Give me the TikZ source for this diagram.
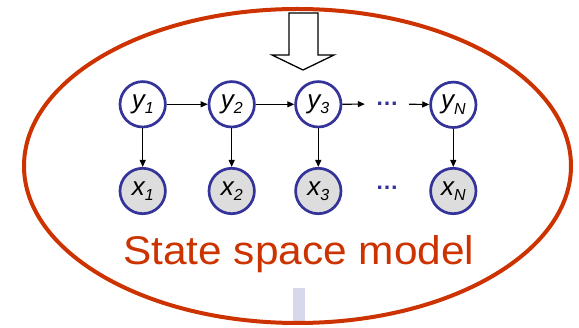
\documentclass[tikz,border=0pt]{standalone}
\usepackage{fontspec}
\setmainfont{Liberation Sans}
\usetikzlibrary{arrows.meta}
\definecolor{ered}{HTML}{CC3300}
\definecolor{navy}{HTML}{333399}
\definecolor{obsgray}{HTML}{DDDDDD}
\definecolor{barcol}{HTML}{D8D8EC}
\newcommand\lab[2]{#1\raisebox{-5.5pt}{\fontsize{16}{16}\selectfont #2}}
\begin{document}
\begin{tikzpicture}[x=1pt,y=-1pt,
  ynode/.style={circle,draw=navy,line width=2.7pt,minimum size=45.4pt,inner sep=0pt,fill=white,font=\fontsize{26}{26}\selectfont\itshape},
  xnode/.style={ynode,fill=obsgray},
  arr/.style={-{Triangle[length=7pt,width=6pt]},line width=1.2pt},
  dots/.style={text=navy,font=\fontsize{23}{23}\selectfont\bfseries,minimum width=44pt,inner sep=0pt}]
\useasboundingbox (0,0) rectangle (579,328);
\fill[barcol] (293.3,288) rectangle (305,323);
\draw[ered,line width=4pt] (297.5,166) ellipse [x radius=273.5, y radius=157];
\draw[line width=1.3pt,fill=white,line join=miter] (289,13) -- (318,13) -- (318,55) -- (334,55) -- (303,70) -- (272,55) -- (289,55) -- cycle;
\node[ynode] (y1) at (142.7,104.3) {\lab{y}{1}};
\node[ynode] (y2) at (231.7,104.3) {\lab{y}{2}};
\node[ynode] (y3) at (318.3,104.3) {\lab{y}{3}};
\node[ynode] (yN) at (453.3,104.8) {\lab{y}{N}};
\node[xnode] (x1) at (142.7,191) {\lab{x}{1}};
\node[xnode] (x2) at (231.7,191) {\lab{x}{2}};
\node[xnode] (x3) at (318.3,191) {\lab{x}{3}};
\node[xnode] (xN) at (453.3,191) {\lab{x}{N}};
\node[dots] (d1) at (387,104) {\ldots};
\node[dots] (d2) at (387,188) {\ldots};
\draw[arr] (y1) -- (y2);
\draw[arr] (y2) -- (y3);
\draw[arr] (y3) -- (d1);
\draw[arr] (d1) -- (yN);
\draw[arr] (y1) -- (x1);
\draw[arr] (y2) -- (x2);
\draw[arr] (y3) -- (x3);
\draw[arr] (yN) -- (xN);
\node[text=ered,font=\fontsize{40}{40}\selectfont,anchor=base west,xscale=1.06,inner sep=0pt] (title) at (123,265) {State space model};
\end{tikzpicture}
\end{document}
